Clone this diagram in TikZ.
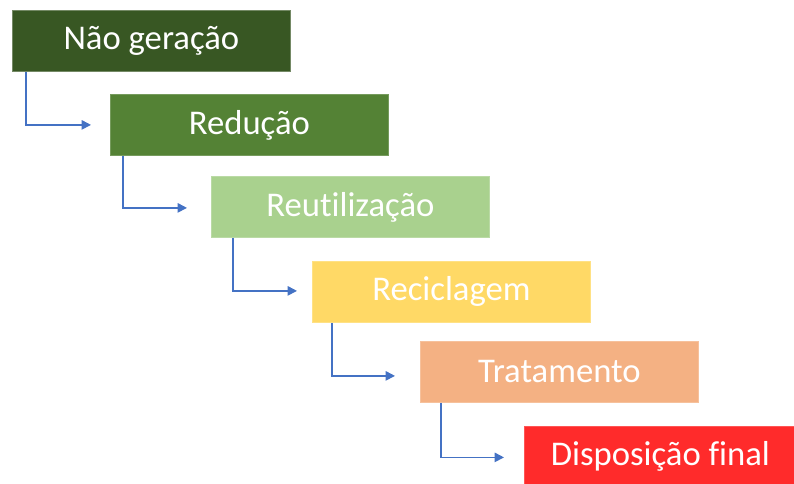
\documentclass[tikz,border=0pt]{standalone}
\usepackage{fontspec}
\setmainfont[Ligatures=NoCommon]{Carlito}
\usetikzlibrary{calc,arrows.meta}
\definecolor{c1}{HTML}{385723}
\definecolor{c2}{HTML}{548235}
\definecolor{c3}{HTML}{A9D18E}
\definecolor{c4}{HTML}{FFD966}
\definecolor{c5}{HTML}{F4B183}
\definecolor{c6}{HTML}{FF2B2B}
\definecolor{arr}{HTML}{4472C4}
\begin{document}
\begin{tikzpicture}[x=0.75pt,y=-0.75pt,
  stepbox/.style={anchor=north west,minimum width=278*0.75pt,minimum height=61*0.75pt,
    inner sep=0pt,text=white,font=\fontsize{26}{30}\selectfont,line width=0.6pt},
  conn/.style={draw=arr,line width=1.2pt,-{Triangle[length=7pt,width=7pt]}}]
\useasboundingbox (0,0) rectangle (794,484);
\node[stepbox,fill=c1,draw=c1!70!white] (b1) at (12,10) {Não geração};
\node[stepbox,fill=c2,draw=c2!80!white] (b2) at (110,94) {Redução};
\node[stepbox,fill=c3,draw=c3!80!white] (b3) at (211,176) {Reutilização};
\node[stepbox,fill=c4,draw=c4!80!white] (b4) at (312,261) {Reciclagem};
\node[stepbox,fill=c5,draw=c5!80!white] (b5) at (420,341) {Tratamento};
\node[stepbox,fill=c6,draw=c6!80!white,minimum width=272*0.75pt,minimum height=60*0.75pt] (b6) at (524,426) {Disposição final};
\draw[conn] ($(b1.south west)+(14,0)$) |- ($(b2.west)+(-19,0)$);
\draw[conn] ($(b2.south west)+(13,0)$) |- ($(b3.west)+(-24,1)$);
\draw[conn] ($(b3.south west)+(22,0)$) |- ($(b4.west)+(-15,-1)$);
\draw[conn] ($(b4.south west)+(20,0)$) |- ($(b5.west)+(-25,4)$);
\draw[conn] ($(b5.south west)+(21,0)$) |- ($(b6.west)+(-20,1)$);
\end{tikzpicture}
\end{document}
